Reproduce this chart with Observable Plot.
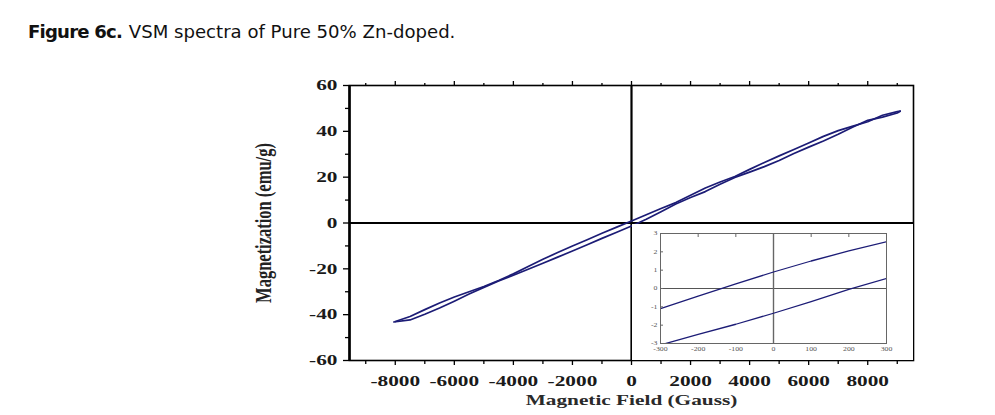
<!DOCTYPE html>
<html><head><meta charset="utf-8">
<script src="https://cdn.jsdelivr.net/npm/d3@7"></script>
<script src="https://cdn.jsdelivr.net/npm/@observablehq/plot@0.6"></script>
<style>
body{margin:0;background:#fff;}
#wrap{position:relative;width:995px;height:415px;overflow:hidden;background:#fff;}
#title{position:absolute;left:28px;top:21px;font-family:"DejaVu Sans",sans-serif;font-size:18.1px;color:#111;white-space:nowrap;}
#title b{letter-spacing:-0.8px;margin-right:1px;}
#main{position:absolute;left:0;top:0;}
#inset{position:absolute;left:632px;top:224px;background:#fff;line-height:0;}
</style></head><body>
<div id="wrap">
  <div id="main"></div>
  <div id="inset"></div>
  <div id="title"><b>Figure 6c.</b> VSM spectra of Pure 50% Zn-doped.</div>
</div>
<script>
// Descending branch (field from +max to -max) — upper loop branch
const fieldDesc = [9100, 9000, 8500, 8000, 7500, 7000, 6500, 6000, 5500, 5000, 4500, 4000, 3500, 3000, 2500, 2000, 1500, 1000, 500, 0, -500, -1000, -1500, -2000, -2500, -3000, -3500, -4000, -4500, -5000, -5500, -6000, -6500, -7000, -7500, -8000];
const magDesc   = [48.8, 48.6, 47.0, 44.2, 42.3, 40.3, 37.8, 34.9, 32.1, 29.3, 26.4, 23.4, 20.3, 17.9, 15.3, 12.1, 8.9, 6.3, 3.6, 0.9, -1.8, -4.5, -7.3, -10.0, -12.9, -15.8, -19.0, -22.2, -25.1, -27.7, -30.0, -32.3, -34.9, -37.8, -40.8, -43.0];
// Ascending branch (field from -max to +max) — lower loop branch
const fieldAsc = [-8050, -7500, -7000, -6500, -6000, -5500, -5000, -4500, -4000, -3500, -3000, -2500, -2000, -1500, -1000, -500, 0, 500, 1000, 1500, 2000, 2500, 3000, 3500, 4000, 4500, 5000, 5500, 6000, 6500, 7000, 7500, 8000, 8500, 9000, 9100];
const magAsc   = [-43.2, -42.3, -39.8, -37.1, -34.1, -31.0, -28.1, -25.3, -22.8, -20.2, -17.6, -14.9, -12.2, -9.5, -6.7, -4.0, -1.3, 1.6, 4.9, 8.3, 11.1, 13.7, 16.9, 19.9, 22.2, 24.6, 27.3, 30.3, 33.1, 35.8, 38.7, 41.9, 44.8, 46.2, 48.0, 48.8];

// Inset (zoom near origin)
const insetField = [-300, -200, -100, 0, 100, 200, 300];
const insetUpper = [-1.1, -0.42, 0.25, 0.9, 1.5, 2.05, 2.55];
const insetLower = [-3.08, -2.5, -1.95, -1.35, -0.72, -0.05, 0.55];

// Tick labels
const xTickLabels = [-8000, -6000, -4000, -2000, 0, 2000, 4000, 6000, 8000];
const xMinorTicks = [-9000, -7000, -5000, -3000, -1000, 1000, 3000, 5000, 7000, 9000];
const yTickLabels = [-60, -40, -20, 0, 20, 40, 60];
const yMinorTicks = [-50, -30, -10, 10, 30, 50];
const insetXTicks = [-300, -200, -100, 0, 100, 200, 300];
const insetYTicks = [-3, -2, -1, 0, 1, 2, 3];

const xTitle = "Magnetic Field (Gauss)";
const yTitle = "Magnetization (emu/g)";

const serif = "'Liberation Serif','Times New Roman',serif";
const navy = "#1c1c76";

const desc = fieldDesc.map((f, i) => ({field: f, m: magDesc[i]}));
const asc = fieldAsc.map((f, i) => ({field: f, m: magAsc[i]}));
const iu = insetField.map((f, i) => ({field: f, m: insetUpper[i]}));
const il = insetField.map((f, i) => ({field: f, m: insetLower[i]}));

const main = Plot.plot({
  width: 995, height: 415,
  marginLeft: 349, marginRight: 82, marginTop: 85, marginBottom: 55,
  x: {domain: [-9550, 9550]},
  y: {domain: [-60, 60]},
  style: {fontFamily: serif, background: "transparent", color: "#111"},
  marks: [
    Plot.ruleY([0], {stroke: "#000", strokeWidth: 2}),
    Plot.ruleX([0], {stroke: "#000", strokeWidth: 2.2}),
    Plot.line(asc, {x: "field", y: "m", stroke: navy, strokeWidth: 1.7}),
    Plot.line(desc, {x: "field", y: "m", stroke: navy, strokeWidth: 1.7}),
    Plot.frame({stroke: "#000", strokeWidth: 1.6}),
    Plot.ruleX([-9550], {stroke: "#000", strokeWidth: 2.6}),
    Plot.axisX({ticks: xTickLabels, tickSize: 5, tickPadding: 10, tickFormat: d => String(d), fontSize: 15, fontWeight: "bold", label: null, stroke: "#000", strokeWidth: 1.3, fill: "#1a1a1a"}),
    Plot.axisX({ticks: xMinorTicks, tickSize: 4, tickFormat: () => "", label: null, stroke: "#000", strokeWidth: 1.3}),
    Plot.axisX({anchor: "top", ticks: xTickLabels, tickSize: 5, tickFormat: () => "", label: null, stroke: "#000", strokeWidth: 1.3}),
    Plot.axisX({anchor: "top", ticks: xMinorTicks, tickSize: 3, tickFormat: () => "", label: null, stroke: "#000", strokeWidth: 1.3}),
    Plot.axisY({ticks: yTickLabels, tickSize: 6, tickPadding: 6, tickFormat: d => String(d), fontSize: 15, fontWeight: "bold", label: null, stroke: "#000", strokeWidth: 1.3, fill: "#1a1a1a"}),
    Plot.axisY({ticks: yMinorTicks, tickSize: 4, tickFormat: () => "", label: null, stroke: "#000", strokeWidth: 1.3}),
    Plot.text([xTitle], {frameAnchor: "bottom", dy: 44, fontSize: 15, fontWeight: "bold", fill: "#2a2a2a"}),
    Plot.text([yTitle], {frameAnchor: "left", dx: -86, rotate: -90, textAnchor: "middle", fontSize: 16.5, fontWeight: "bold", fill: "#222"})
  ]
});

// The source figure is horizontally stretched: widen glyphs along screen x.
function stretchX(text, s) {
  let tr = text.getAttribute("transform");
  if (!tr) {
    const x = +text.getAttribute("x") || 0, y = +text.getAttribute("y") || 0;
    text.removeAttribute("x"); text.removeAttribute("y");
    tr = `translate(${x},${y})`;
  }
  if (tr.includes("rotate")) tr = tr.replace("rotate", `scale(${s},1) rotate`);
  else tr = tr + ` scale(${s},1)`;
  text.setAttribute("transform", tr);
}
main.querySelectorAll("text").forEach(t => stretchX(t, 1.42));
document.getElementById("main").appendChild(main);

const inset = Plot.plot({
  width: 281, height: 136,
  marginLeft: 28, marginRight: 27, marginTop: 9, marginBottom: 17,
  x: {domain: [-300, 300]},
  y: {domain: [-3, 3]},
  style: {fontFamily: serif, background: "#fff", color: "#555"},
  marks: [
    Plot.ruleY([0], {stroke: "#555", strokeWidth: 1}),
    Plot.ruleX([0], {stroke: "#666", strokeWidth: 1.4}),
    Plot.line(iu, {x: "field", y: "m", stroke: navy, strokeWidth: 1.3, clip: true}),
    Plot.line(il, {x: "field", y: "m", stroke: navy, strokeWidth: 1.3, clip: true}),
    Plot.frame({stroke: "#666", strokeWidth: 1}),
    Plot.axisX({ticks: insetXTicks, tickSize: 0, tickPadding: 3, tickFormat: d => String(d), fontSize: 6, label: null, fill: "#555"}),
    Plot.axisX({anchor: "top", ticks: insetXTicks, tickSize: -3, tickFormat: () => "", label: null, stroke: "#666"}),
    Plot.axisY({ticks: insetYTicks, tickSize: -3, tickPadding: 6, tickFormat: d => String(d), fontSize: 6, label: null, stroke: "#666", fill: "#555"})
  ]
});
inset.querySelectorAll("text").forEach(t => stretchX(t, 1.3));
document.getElementById("inset").appendChild(inset);
</script>
</body></html>
